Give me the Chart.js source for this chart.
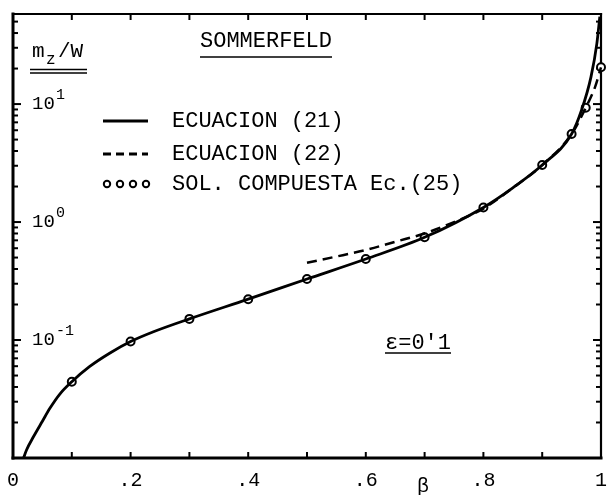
<!DOCTYPE html>
<html>
<head>
<meta charset="utf-8">
<script src="https://cdn.jsdelivr.net/npm/chart.js@4/dist/chart.umd.min.js"></script>
<style>
  html, body { margin: 0; padding: 0; background: #fff; }
  #wrap { width: 612px; height: 495px; }
</style>
</head>
<body>
<div id="wrap"><canvas id="chart"></canvas></div>
<script>
// ECUACION (21) - solid curve
const betaEc21 = [0.018, 0.023, 0.035, 0.05, 0.063, 0.08, 0.1, 0.13, 0.165, 0.2, 0.24, 0.3, 0.4, 0.5, 0.6, 0.7, 0.8, 0.85, 0.9, 0.95, 0.967, 0.983, 0.993, 0.998];
const mzEc21 = [0.01, 0.0117, 0.0152, 0.0205, 0.0265, 0.035, 0.0443, 0.0594, 0.0776, 0.097, 0.118, 0.151, 0.222, 0.329, 0.486, 0.742, 1.33, 1.95, 3.04, 5.57, 8.9, 17.0, 32.7, 55];
// ECUACION (22) - dashed curve
const betaEc22 = [0.5, 0.55, 0.6, 0.65, 0.7, 0.75, 0.8, 0.85, 0.9, 0.95, 0.974, 0.99, 1.0];
const mzEc22 = [0.452, 0.51, 0.58, 0.68, 0.80, 1.0, 1.3, 1.95, 3.04, 5.57, 9.3, 14.0, 20.5];
// SOL. COMPUESTA Ec.(25) - circles
const betaSol = [0.1, 0.2, 0.3, 0.4, 0.5, 0.6, 0.7, 0.8, 0.9, 0.95, 0.974, 1.0];
const mzSol = [0.0443, 0.097, 0.151, 0.222, 0.329, 0.486, 0.742, 1.33, 3.04, 5.57, 9.3, 20.5];

const xTickValues = [0, 0.2, 0.4, 0.6, 0.8, 1];
const xTickLabels = ['0', '.2', '.4', '.6', '.8', '1'];
const yDecades = [0.1, 1, 10];
const yDecadeExp = ['-1', '0', '1'];
const legendLabels = ['ECUACION (21)', 'ECUACION (22)', 'SOL. COMPUESTA Ec.(25)'];

const FONT = '"Liberation Mono", "DejaVu Sans Mono", monospace';

function pairs(xs, ys) {
  return xs.map((x, i) => ({ x: x, y: ys[i] }));
}

function seg(ctx, x1, y1, x2, y2) {
  ctx.beginPath();
  ctx.moveTo(x1, y1);
  ctx.lineTo(x2, y2);
  ctx.stroke();
}

const frame = {
  id: 'frame',
  beforeDatasetsDraw(chart) {
    const ctx = chart.ctx, a = chart.chartArea;
    const xs = chart.scales.x, ys = chart.scales.y;
    ctx.save();
    ctx.strokeStyle = '#000';
    ctx.lineCap = 'square';
    // box
    ctx.lineWidth = 3;
    seg(ctx, a.left, a.top, a.left, a.bottom);
    seg(ctx, a.left, a.bottom, a.right, a.bottom);
    ctx.lineWidth = 2.2;
    seg(ctx, a.left, a.top, a.right, a.top);
    seg(ctx, a.right, a.top, a.right, a.bottom);
    // x ticks, every .1, inward on top and bottom
    ctx.lineWidth = 2;
    ctx.lineCap = 'butt';
    for (let i = 1; i < 10; i++) {
      const px = xs.getPixelForValue(i / 10);
      seg(ctx, px, a.bottom, px, a.bottom - 6);
      seg(ctx, px, a.top, px, a.top + 6);
    }
    // y ticks, log minor 1..9 per decade, inward left and right
    [0.01, 0.1, 1, 10].forEach(d => {
      for (let k = 1; k < 10; k++) {
        const v = d * k;
        if (v > ys.max) break;
        const py = ys.getPixelForValue(v);
        const len = k === 1 ? 8 : 5;
        seg(ctx, a.left, py, a.left + len, py);
        seg(ctx, a.right, py, a.right - len, py);
      }
    });
    ctx.restore();
  },
  afterDraw(chart) {
    const ctx = chart.ctx, a = chart.chartArea;
    const xs = chart.scales.x, ys = chart.scales.y;
    ctx.save();
    ctx.fillStyle = '#000';
    ctx.strokeStyle = '#000';
    ctx.textBaseline = 'middle';

    // x tick labels
    ctx.font = '20px ' + FONT;
    ctx.textAlign = 'center';
    xTickValues.forEach((v, i) => {
      ctx.fillText(xTickLabels[i], xs.getPixelForValue(v), a.bottom + 23);
    });
    ctx.fillText('\u03b2', 423, a.bottom + 29);

    // y decade labels 10^n inside the frame
    ctx.textAlign = 'left';
    yDecades.forEach((v, i) => {
      const py = ys.getPixelForValue(v);
      ctx.font = '19px ' + FONT;
      ctx.fillText('10', 32, py);
      ctx.font = '15px ' + FONT;
      ctx.fillText(yDecadeExp[i], 56, py - 9);
    });

    // y title m_z/W with double underline
    ctx.font = '21px ' + FONT;
    ctx.fillText('m', 32, 51);
    ctx.font = '16px ' + FONT;
    ctx.fillText('z', 46, 60);
    ctx.font = '21px ' + FONT;
    ctx.fillText('/W', 58, 51);
    ctx.lineWidth = 1.5;
    seg(ctx, 30, 69.5, 87, 69.5);
    seg(ctx, 30, 73, 87, 73);

    // title
    ctx.font = '22px ' + FONT;
    ctx.fillText('SOMMERFELD', 200, 41);
    ctx.lineWidth = 1.5;
    seg(ctx, 200, 57, 332, 57);

    // epsilon note
    ctx.fillText('\u03b5=0\'1', 385, 343);
    seg(ctx, 385, 353, 451, 353);

    // legend
    const rows = [121, 154, 184];
    legendLabels.forEach((t, i) => ctx.fillText(t, 172, rows[i]));
    ctx.lineWidth = 2.8;
    seg(ctx, 103, rows[0], 148, rows[0]);
    ctx.setLineDash([8, 5]);
    seg(ctx, 103, rows[1], 148, rows[1]);
    ctx.setLineDash([]);
    ctx.lineWidth = 2;
    ctx.fillStyle = '#fff';
    [107, 120, 133, 146].forEach(cx => {
      ctx.beginPath();
      ctx.arc(cx, rows[2], 3.2, 0, Math.PI * 2);
      ctx.fill();
      ctx.stroke();
    });
    ctx.restore();
  }
};

new Chart(document.getElementById('chart'), {
  type: 'line',
  data: {
    datasets: [
      {
        label: legendLabels[0],
        data: pairs(betaEc21, mzEc21),
        borderColor: '#000',
        borderWidth: 2.8,
        pointRadius: 0,
        cubicInterpolationMode: 'monotone',
        clip: false
      },
      {
        label: legendLabels[1],
        data: pairs(betaEc22, mzEc22),
        borderColor: '#000',
        borderWidth: 2.5,
        borderDash: [10, 6],
        pointRadius: 0,
        cubicInterpolationMode: 'monotone',
        clip: false
      },
      {
        label: legendLabels[2],
        data: pairs(betaSol, mzSol),
        showLine: false,
        borderColor: '#000',
        pointRadius: 4,
        pointBorderWidth: 2,
        pointBackgroundColor: '#fff',
        pointBorderColor: '#000',
        clip: false
      }
    ]
  },
  options: {
    responsive: true,
    maintainAspectRatio: false,
    animation: false,
    layout: { padding: { left: 13, right: 11, top: 14, bottom: 37 } },
    plugins: { legend: { display: false }, tooltip: { enabled: false } },
    scales: {
      x: { type: 'linear', min: 0, max: 1, display: false },
      y: { type: 'logarithmic', min: 0.01, max: 58, display: false }
    }
  },
  plugins: [frame]
});
</script>
</body>
</html>
